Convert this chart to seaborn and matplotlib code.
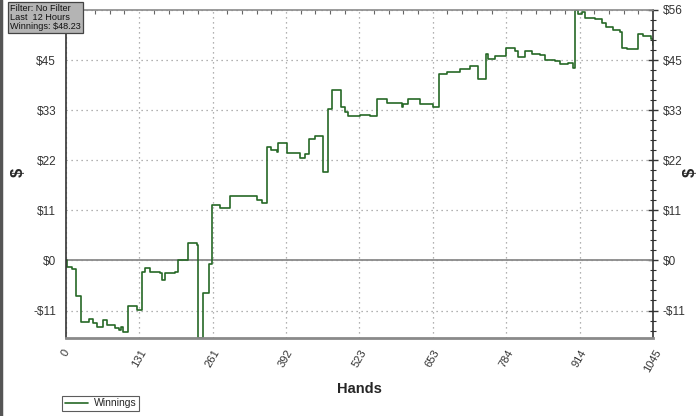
import numpy as np
import pandas as pd
import matplotlib
matplotlib.use("Agg")
import matplotlib.pyplot as plt
import seaborn as sns
from matplotlib.ticker import FixedLocator, MultipleLocator

# cumulative winnings at each step change (hand, $)
hands = [0, 2, 12, 18, 27, 42, 49, 55, 67, 73, 88, 95, 98, 102, 111, 126,
         135, 141, 150, 168, 172, 177, 194, 199, 217, 233, 236, 244, 255, 260,
         274, 292, 316, 340, 349, 358, 366, 376, 378, 393, 417, 426, 432, 443,
         457, 467, 473, 490, 497, 503, 524, 541, 554, 571, 598, 601, 609, 630,
         654, 664, 678, 701, 719, 734, 747, 752, 764, 783, 799, 805, 818, 829,
         844, 853, 870, 879, 893, 903, 907, 912, 918, 924, 942, 954, 962, 974,
         986, 989, 998, 1019, 1028, 1042, 1045]
winnings = [0.0, -1.5, -1.9, -7.9, -13.7, -13.1, -14.0, -14.8, -13.4, -14.4,
            -15.2, -15.5, -14.8, -15.9, -10.2, -11.0, -2.5, -1.6, -2.5, -2.8,
            -4.3, -2.8, -2.5, 0.0, 4.0, 3.5, -17.3, -7.2, -0.7, 12.3,
            11.7, 14.4, 14.5, 13.5, 12.9, 25.4, 24.8, 24.3, 26.3, 24.1,
            23.0, 23.7, 27.1, 27.8, 19.8, 33.8, 38.1, 34.2, 33.3, 32.3,
            32.6, 32.2, 36.0, 35.3, 34.2, 35.0, 36.0, 35.0, 34.2, 41.6,
            42.2, 42.8, 43.5, 40.5, 46.1, 45.0, 45.6, 47.6, 46.9, 45.4,
            46.9, 46.2, 45.9, 44.8, 44.6, 43.9, 44.2, 43.0, 56.1, 55.1,
            55.5, 54.3, 53.9, 53.1, 52.1, 51.6, 51.0, 47.6, 47.2, 50.6,
            50.2, 49.5, 48.2]

x_ticks = [0, 130.625, 261.25, 391.875, 522.5, 653.125, 783.75, 914.375, 1045]
x_labels = ["0", "131", "261", "392", "523", "653", "784", "914", "1045"]
y_ticks = [-11.2, 0, 11.2, 22.4, 33.6, 44.8, 56.0]
y_labels = ["-$11", "$0", "$11", "$22", "$33", "$45", "$56"]

info_lines = ["Filter: No Filter", "Last  12 Hours", "Winnings: $48.23"]

df = pd.DataFrame({"Hands": hands, "Winnings": winnings})

sns.set_style("white")
plt.rcParams["font.family"] = ["Liberation Sans", "DejaVu Sans"]

fig = plt.figure(figsize=(7, 4.16), dpi=100)
ax = fig.add_axes([0.0939, 0.188, 0.839, 0.788])

sns.lineplot(data=df, x="Hands", y="Winnings", drawstyle="steps-post",
             color="#266826", linewidth=1.2, sort=False, estimator=None,
             label="Winnings", ax=ax)

ax.axhline(0, color="#8a8a8a", linewidth=1.3, zorder=1)

ax.set_xlim(0, 1045)
ax.set_ylim(-17.3, 56.0)

ax.xaxis.set_major_locator(FixedLocator(x_ticks))
ax.set_xticklabels(x_labels, rotation=60, fontsize=8, color="#333333")
ax.xaxis.set_minor_locator(MultipleLocator(1045 / 40))
ax.yaxis.set_major_locator(FixedLocator(y_ticks))
ax.set_yticklabels(y_labels, fontsize=8.5, color="#333333")
ax.yaxis.set_minor_locator(MultipleLocator(2.24))

ax.tick_params(axis="both", which="major", direction="inout", length=7,
               width=1, color="#333333", right=True, labelright=True)
ax.tick_params(axis="both", which="minor", direction="inout", length=4,
               width=0.8, color="#333333", right=True)
ax.tick_params(axis="x", which="major", top=False)
ax.tick_params(axis="x", which="minor", top=True, direction="in", length=3,
               color="#666666")

# the info box hides the left $56 label in the original (right one stays)
top_tick = ax.yaxis.get_major_ticks()[-1]
top_tick.label1.set_visible(False)
top_tick.label2.set_visible(True)

ax.grid(True, which="major", linestyle=(0, (1, 3)), color="#999999",
        linewidth=0.9)
ax.set_axisbelow(True)

for side in ["left", "right"]:
    ax.spines[side].set_color("#333333")
    ax.spines[side].set_linewidth(1.2)
ax.spines["top"].set_color("#8a8a8a")
ax.spines["top"].set_linewidth(1.2)
ax.spines["bottom"].set_color("#8a8a8a")
ax.spines["bottom"].set_linewidth(2)

ax.set_xlabel("Hands", fontsize=10.5, fontweight="bold", labelpad=6)
ax.set_ylabel("")
fig.text(18 / 700, 1 - 172 / 416, "$", rotation=90, fontsize=12,
         fontweight="bold", ha="center", va="center")
fig.text(690 / 700, 1 - 172 / 416, "$", rotation=90, fontsize=12,
         fontweight="bold", ha="center", va="center")

# legend below the plot
ax.get_legend().remove()
handles, labels = ax.get_legend_handles_labels()
leg = fig.legend(handles, labels, loc="lower left",
                 bbox_to_anchor=(62 / 700, 5 / 416), fontsize=7.5,
                 frameon=True, fancybox=False, handlelength=2.2,
                 borderpad=0.25, handletextpad=0.6, borderaxespad=0)
leg.get_frame().set_edgecolor("#333333")
leg.get_frame().set_linewidth(0.8)

# info box top left
fig.text(10 / 700, 1 - 4 / 416, "\n".join(info_lines), fontsize=6.6,
         ha="left", va="top", color="#111111", linespacing=1.0,
         bbox=dict(boxstyle="square,pad=0.25", facecolor="#b4b4b4",
                   edgecolor="#444444", linewidth=0.9))

# window edge on the left
fig.add_artist(plt.Line2D([0.002, 0.002], [0, 1], color="#555555",
                          linewidth=2.5, transform=fig.transFigure))

fig.savefig("out.png", dpi=100)
